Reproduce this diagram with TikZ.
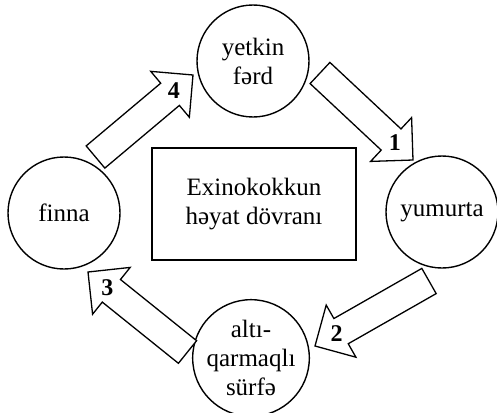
\documentclass[tikz,border=0pt]{standalone}
\usepackage{fontspec}
\setmainfont{Liberation Serif}
\usetikzlibrary{calc}
\begin{document}
\begin{tikzpicture}[x=1pt,y=-1pt,line join=miter,
        stage/.style={draw,circle,line width=1.4pt,minimum size=112pt,inner sep=0pt,
            align=center,font=\fontsize{25}{29}\selectfont},
        blockarrow/.style={draw,line width=1.3pt,fill=white},
        stepnum/.style={font=\fontsize{24}{24}\selectfont\bfseries,inner sep=0pt}]
        \useasboundingbox (0,0) rectangle (497,412);
        %% life stages
        \node[stage] (adult) at (253,61) {yetkin\\fərd};
        \node[stage] (egg) at (442,212) {yumurta};
        \node[stage,minimum size=108pt] (larva) at (251,358) {altı-\\qarmaqlı\\sürfə};
        \node[stage] (cyst) at (64,213) {finna};
        %% title box
        \node[draw,line width=1.4pt,minimum width=204pt,minimum height=112pt,align=center,
            font=\fontsize{25}{29}\selectfont] (title) at (254,204) {Exinokokkun\\həyat dövranı};
        %% arrow ends
        \coordinate (t1) at (320,73);    \coordinate (h1) at (413,160);
        \coordinate (t2) at (429,281);   \coordinate (h2) at (315,346);
        \coordinate (t3) at (187.5,352); \coordinate (h3) at (88,272);
        \coordinate (t4) at (95.5,157);  \coordinate (h4) at (193,75);
        %% block arrows
        \foreach \n in {1,2,3,4}{
            \coordinate (b) at ($(h\n)!30pt!(t\n)$);
            \draw[blockarrow] ($(t\n)!14.5pt!90:(h\n)$) -- ($(b)!14.5pt!-90:(t\n)$)
                -- ($(b)!30pt!-90:(t\n)$) -- (h\n) -- ($(b)!30pt!90:(t\n)$)
                -- ($(b)!14.5pt!90:(t\n)$) -- ($(t\n)!14.5pt!-90:(h\n)$) -- cycle;
            \node[stepnum] (n\n) at ($(b)!5pt!(h\n)$) {\n};
        }
    \end{tikzpicture}
\end{document}
